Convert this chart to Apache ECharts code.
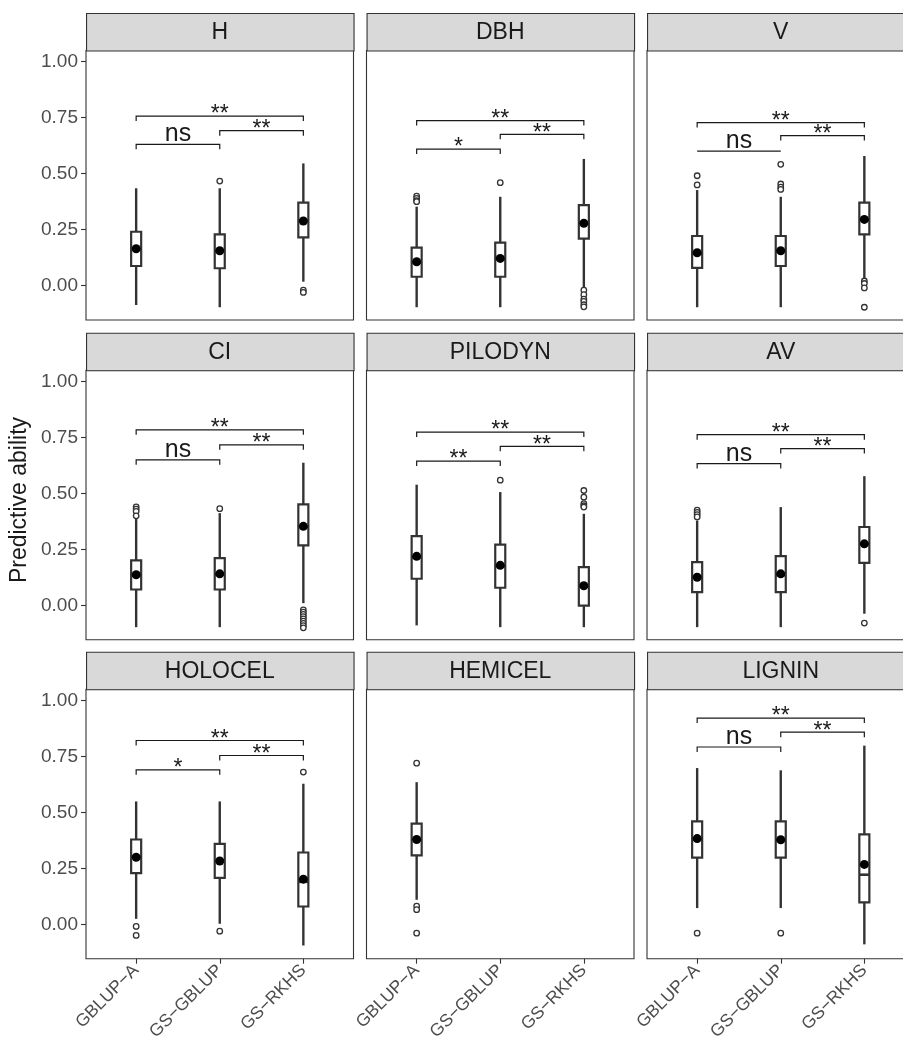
<!DOCTYPE html>
<html><head><meta charset="utf-8">
<script src="https://cdn.jsdelivr.net/npm/echarts@6/dist/echarts.min.js"></script>
<style>html,body{margin:0;padding:0;background:#fff}#c{width:903px;height:1048px}</style>
</head><body><div id="c"></div>
<script>
// ---------------- DATA ----------------
const traits = ['H', 'DBH', 'V', 'CI', 'PILODYN', 'AV', 'HOLOCEL', 'HEMICEL', 'LIGNIN'];
const methods = ['GBLUP\u2212A', 'GS\u2212GBLUP', 'GS\u2212RKHS'];
const yTicks = [0, 0.25, 0.5, 0.75, 1.0];

// per trait: values for [GBLUP-A, GS-GBLUP, GS-RKHS] (null = no data)
const whiskerLow = [
  [-0.086, -0.096, 0.018],
  [-0.096, -0.096, -0.007],
  [-0.096, -0.096, 0.029],
  [-0.097, -0.097, 0.010],
  [-0.089, -0.097, -0.097],
  [-0.097, -0.097, -0.037],
  [0.025, 0.003, -0.094],
  [0.110, null, null],
  [0.073, 0.073, -0.089]
];
const q1 = [
  [0.088, 0.078, 0.216],
  [0.040, 0.040, 0.210],
  [0.080, 0.088, 0.229],
  [0.071, 0.071, 0.268],
  [0.119, 0.079, -0.001],
  [0.059, 0.059, 0.190],
  [0.229, 0.208, 0.080],
  [0.308, null, null],
  [0.298, 0.298, 0.098]
];
const median = [
  [0.165, 0.155, 0.290],
  [0.105, 0.120, 0.280],
  [0.145, 0.155, 0.296],
  [0.135, 0.140, 0.350],
  [0.215, 0.175, 0.085],
  [0.125, 0.135, 0.275],
  [0.300, 0.283, 0.190],
  [0.380, null, null],
  [0.380, 0.375, 0.222]
];
const q3 = [
  [0.241, 0.229, 0.371],
  [0.170, 0.192, 0.360],
  [0.222, 0.222, 0.371],
  [0.201, 0.211, 0.451],
  [0.309, 0.271, 0.171],
  [0.193, 0.220, 0.350],
  [0.379, 0.360, 0.321],
  [0.450, null, null],
  [0.460, 0.460, 0.402]
];
const whiskerHigh = [
  [0.435, 0.435, 0.546],
  [0.353, 0.397, 0.566],
  [0.427, 0.397, 0.579],
  [0.387, 0.412, 0.637],
  [0.539, 0.506, 0.409],
  [0.379, 0.439, 0.577],
  [0.549, 0.549, 0.628],
  [0.635, null, null],
  [0.698, 0.688, 0.798]
];
const means = [
  [0.165, 0.156, 0.289],
  [0.107, 0.122, 0.279],
  [0.147, 0.156, 0.296],
  [0.137, 0.141, 0.353],
  [0.219, 0.179, 0.088],
  [0.126, 0.141, 0.275],
  [0.300, 0.283, 0.202],
  [0.379, null, null],
  [0.383, 0.378, 0.268]
];
const outliers = [
  [[], [0.467], [-0.020, -0.030]],
  [[0.400, 0.390, 0.380, 0.375], [0.460], [-0.020, -0.040, -0.060, -0.070, -0.085, -0.094]],
  [[0.491, 0.450], [0.542, 0.454, 0.440, 0.430], [0.021, 0.010, -0.010, -0.096]],
  [[0.440, 0.430, 0.420, 0.400], [0.432], [-0.020, -0.030, -0.040, -0.050, -0.060, -0.070, -0.080, -0.090, -0.100]],
  [[], [0.559], [0.513, 0.483, 0.454, 0.445, 0.439]],
  [[0.425, 0.415, 0.405, 0.395], [], [-0.079]],
  [[-0.009, -0.049], [-0.030], [0.680]],
  [[0.720, 0.082, 0.066, -0.039], [], []],
  [[-0.039], [-0.039], []]
];
// significance brackets: [from, to, y, label, tipLength]
const brackets = [
  [[1, 3, 0.757, '**', 0.022], [2, 3, 0.692, '**', 0.022], [1, 2, 0.631, 'ns', 0.022]],
  [[1, 3, 0.737, '**', 0.022], [2, 3, 0.676, '**', 0.022], [1, 2, 0.610, '*', 0.022]],
  [[1, 3, 0.728, '**', 0.022], [2, 3, 0.670, '**', 0.022], [1, 2, 0.601, 'ns', 0]],
  [[1, 3, 0.784, '**', 0.022], [2, 3, 0.717, '**', 0.022], [1, 2, 0.650, 'ns', 0.022]],
  [[1, 3, 0.774, '**', 0.022], [2, 3, 0.710, '**', 0.022], [1, 2, 0.644, '**', 0.022]],
  [[1, 3, 0.762, '**', 0.022], [2, 3, 0.700, '**', 0.022], [1, 2, 0.633, 'ns', 0.022]],
  [[1, 3, 0.821, '**', 0.022], [2, 3, 0.754, '**', 0.022], [1, 2, 0.690, '*', 0.022]],
  [],
  [[1, 3, 0.921, '**', 0.022], [2, 3, 0.858, '**', 0.022], [1, 2, 0.792, 'ns', 0.022]]
];

// ---------------- LAYOUT ----------------
const FONT = 'Liberation Sans, Arial, Helvetica, sans-serif';
const colLeft = [86, 366.5, 647];
const panelW = 267.5;
const stripTop = [13, 332.7, 651.7];
const stripH = 37.5;
const panelH = 269.5;

const chart = echarts.init(document.getElementById('c'), null, { renderer: 'canvas' });
const grids = [], xAxes = [], yAxes = [], series = [], graphics = [];

traits.forEach((t, i) => {
  const r = Math.floor(i / 3), c = i % 3;
  const top = stripTop[r] + stripH;
  grids.push({
    left: colLeft[c], top: top, width: panelW, height: panelH,
    show: true, borderColor: '#333', borderWidth: 1.1, backgroundColor: '#fff',
    containLabel: false, outerBoundsMode: 'none'
  });
  xAxes.push({
    gridIndex: i, type: 'value', min: 0.4, max: 3.6,
    axisLine: { show: false, onZero: false }, splitLine: { show: false },
    axisTick: { show: r === 2, customValues: [1, 2, 3], length: 5, lineStyle: { color: '#333', width: 1.1 } },
    axisLabel: {
      show: r === 2, customValues: [1, 2, 3],
      formatter: v => methods[Math.round(v) - 1],
      rotate: 45, color: '#4d4d4d', fontSize: 17.5, fontFamily: FONT, margin: 9
    }
  });
  yAxes.push({
    gridIndex: i, type: 'value', min: -0.153, max: 1.05,
    axisLine: { show: false, onZero: false }, splitLine: { show: false },
    axisTick: { show: c === 0, customValues: yTicks, length: 5, lineStyle: { color: '#333', width: 1.1 } },
    axisLabel: {
      show: c === 0, customValues: yTicks, formatter: v => v.toFixed(2),
      color: '#4d4d4d', fontSize: 19, fontFamily: FONT, margin: 8
    }
  });

  // strip
  graphics.push({
    type: 'rect', left: colLeft[c], top: stripTop[r], silent: true,
    shape: { width: panelW, height: stripH },
    style: { fill: '#d9d9d9', stroke: '#333', lineWidth: 1.1 }
  });
  graphics.push({
    type: 'text', x: colLeft[c] + panelW / 2, y: stripTop[r] + stripH / 2 + 1, silent: true,
    style: { text: t, fill: '#1a1a1a', fontSize: 23, fontFamily: FONT, align: 'center', verticalAlign: 'middle' }
  });

  // significance brackets
  const br = brackets[i];
  series.push({
    type: 'custom', xAxisIndex: i, yAxisIndex: i, z: 1, silent: true,
    data: br.map(b => [b[0], b[1], b[2], b[4]]),
    renderItem: (params, api) => {
      const a = api.coord([api.value(0), api.value(2)]);
      const b = api.coord([api.value(1), api.value(2)]);
      const tip = api.size([0, api.value(3)])[1];
      const lab = br[params.dataIndex][3];
      const isNs = lab === 'ns';
      return {
        type: 'group', children: [
          { type: 'polyline', shape: { points: [[a[0], a[1] + tip], [a[0], a[1]], [b[0], b[1]], [b[0], b[1] + tip]] },
            style: { stroke: '#1a1a1a', lineWidth: 1.2, fill: null } },
          { type: 'text', style: { text: lab, x: (a[0] + b[0]) / 2, y: isNs ? a[1] - 10 : a[1] - 1,
            align: 'center', verticalAlign: 'middle', fontSize: isNs ? 25 : 23, fontFamily: FONT, fill: '#1a1a1a' } }
        ]
      };
    }
  });

  // boxes
  const boxData = [];
  for (let m = 0; m < 3; m++) {
    if (q1[i][m] === null) continue;
    boxData.push([m + 1, whiskerLow[i][m], q1[i][m], median[i][m], q3[i][m], whiskerHigh[i][m]]);
  }
  series.push({
    type: 'custom', xAxisIndex: i, yAxisIndex: i, z: 2, silent: true,
    data: boxData,
    renderItem: (params, api) => {
      const x = api.value(0);
      const lo = api.coord([x, api.value(1)]);
      const b1 = api.coord([x, api.value(2)]);
      const md = api.coord([x, api.value(3)]);
      const b3 = api.coord([x, api.value(4)]);
      const hi = api.coord([x, api.value(5)]);
      const hw = api.size([0.12, 0])[0] / 2;
      return {
        type: 'group', children: [
          { type: 'line', shape: { x1: lo[0], y1: lo[1], x2: hi[0], y2: hi[1] }, style: { stroke: '#333', lineWidth: 2.4 } },
          { type: 'rect', shape: { x: b3[0] - hw, y: b3[1], width: 2 * hw, height: b1[1] - b3[1] },
            style: { fill: '#fff', stroke: '#333', lineWidth: 2.2 } },
          { type: 'line', shape: { x1: md[0] - hw, y1: md[1], x2: md[0] + hw, y2: md[1] }, style: { stroke: '#333', lineWidth: 2.6 } }
        ]
      };
    }
  });

  // outliers
  const outData = [];
  outliers[i].forEach((arr, m) => arr.forEach(v => outData.push([m + 1, v])));
  series.push({
    type: 'scatter', xAxisIndex: i, yAxisIndex: i, z: 3, silent: true,
    data: outData, symbol: 'circle', symbolSize: 5.5,
    itemStyle: { color: '#fff', borderColor: '#333', borderWidth: 1.3, opacity: 1 }
  });

  // means
  const meanData = [];
  means[i].forEach((v, m) => { if (v !== null) meanData.push([m + 1, v]); });
  series.push({
    type: 'scatter', xAxisIndex: i, yAxisIndex: i, z: 4, silent: true,
    data: meanData, symbol: 'circle', symbolSize: 9,
    itemStyle: { color: '#000', opacity: 1 }
  });
});

// y axis title
graphics.push({
  type: 'text', x: 20, y: 500, rotation: Math.PI / 2, silent: true,
  style: { text: 'Predictive ability', fill: '#1a1a1a', fontSize: 23, fontFamily: FONT, align: 'center', verticalAlign: 'middle' }
});

chart.setOption({
  animation: false,
  backgroundColor: '#fff',
  grid: grids, xAxis: xAxes, yAxis: yAxes, series: series,
  graphic: { elements: graphics }
});
</script>
</body></html>
